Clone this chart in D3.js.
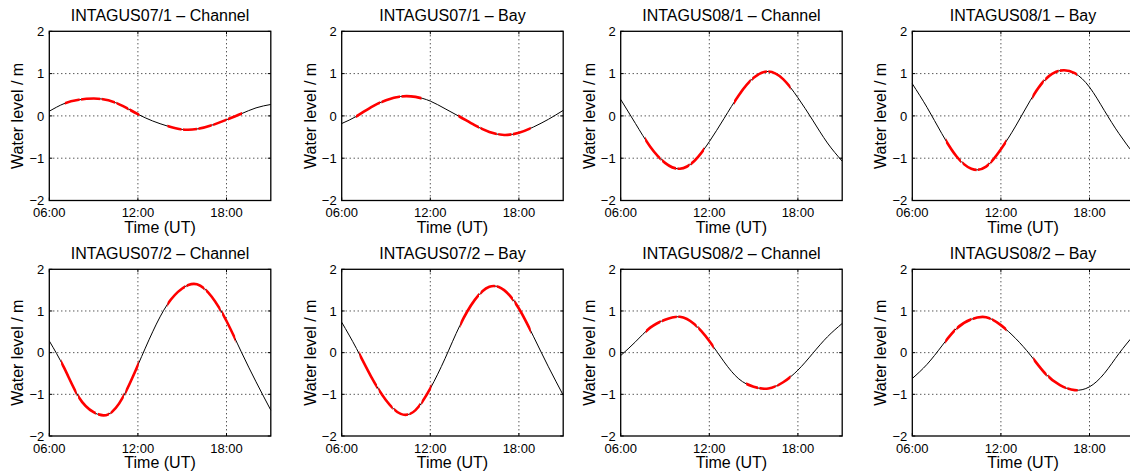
<!DOCTYPE html>
<html>
<head>
<meta charset="utf-8">
<script src="https://cdn.jsdelivr.net/npm/d3@7"></script>
<style>
  html, body { margin: 0; padding: 0; background: #fff; }
  svg { display: block; font-family: "Liberation Sans", Arial, Helvetica, sans-serif; }
</style>
</head>
<body>
<svg id="chart" width="1130" height="475"></svg>
<script>
// Hours of the day (UT) at which the water level is sampled
const hours = [6, 7, 8, 9, 10, 11, 12, 13, 14, 15, 16, 17, 18, 19, 20, 21];

// Panel titles, row by row
const titles = [
  "INTAGUS07/1 – Channel", "INTAGUS07/1 – Bay", "INTAGUS08/1 – Channel", "INTAGUS08/1 – Bay",
  "INTAGUS07/2 – Channel", "INTAGUS07/2 – Bay", "INTAGUS08/2 – Channel", "INTAGUS08/2 – Bay"
];

// Water level (m) at each hour, one array per panel
const level071Channel = [0.11, 0.29, 0.38, 0.41, 0.37, 0.23, 0.04, -0.12, -0.24, -0.32, -0.31, -0.22, -0.09, 0.05, 0.19, 0.27];
const level071Bay     = [-0.18, -0.01, 0.21, 0.37, 0.46, 0.45, 0.35, 0.17, -0.02, -0.22, -0.38, -0.45, -0.40, -0.26, -0.08, 0.13];
const level081Channel = [0.39, -0.18, -0.73, -1.11, -1.25, -1.06, -0.61, -0.06, 0.49, 0.90, 1.05, 0.87, 0.43, -0.10, -0.64, -1.07];
const level081Bay     = [0.76, 0.20, -0.42, -0.96, -1.25, -1.20, -0.79, -0.24, 0.37, 0.86, 1.07, 1.01, 0.68, 0.13, -0.42, -0.90];
const level072Channel = [0.28, -0.36, -1.07, -1.43, -1.48, -1.06, -0.30, 0.50, 1.16, 1.54, 1.64, 1.34, 0.76, 0.02, -0.70, -1.38];
const level072Bay     = [0.73, 0.10, -0.58, -1.14, -1.47, -1.38, -0.86, -0.14, 0.65, 1.26, 1.58, 1.50, 1.06, 0.38, -0.34, -1.02];
const level082Channel = [-0.07, 0.26, 0.60, 0.79, 0.86, 0.68, 0.28, -0.22, -0.63, -0.82, -0.86, -0.71, -0.42, -0.02, 0.38, 0.70];
const level082Bay     = [-0.62, -0.28, 0.16, 0.58, 0.80, 0.85, 0.66, 0.34, -0.06, -0.50, -0.78, -0.90, -0.82, -0.50, -0.02, 0.42];
const levels = [level071Channel, level071Bay, level081Channel, level081Bay,
                level072Channel, level072Bay, level082Channel, level082Bay];

// Measurement periods (start, end hour) drawn in red on each panel
const sampled071Channel = [[7.05, 8.05], [8.15, 9.45], [9.55, 10.45], [10.55, 11.35], [11.45, 12.1],
                           [14.0, 14.95], [15.05, 16.0], [16.1, 17.0], [17.1, 18.0], [18.1, 19.05]];
const sampled071Bay     = [[6.97, 8.6], [8.7, 9.95], [10.05, 11.4],
                           [13.9, 15.3], [15.4, 16.5], [16.6, 17.5], [17.6, 18.8]];
const sampled081Channel = [[7.65, 8.7], [8.8, 9.75], [9.85, 10.65], [10.75, 11.65],
                           [13.67, 14.8], [14.9, 15.9], [16.0, 17.5]];
const sampled081Bay     = [[8.27, 9.3], [9.4, 10.35], [10.45, 11.2], [11.3, 12.36],
                           [14.13, 14.9], [15.0, 15.9], [16.0, 17.15]];
const sampled072Channel = [[6.8, 7.85], [7.95, 9.15], [9.3, 10.05], [10.15, 11.05], [11.15, 12.05],
                           [14.0, 15.2], [15.3, 16.5], [16.6, 17.6], [17.7, 18.6]];
const sampled072Bay     = [[7.2, 8.4], [8.5, 9.45], [9.55, 10.5], [10.6, 11.3], [11.4, 12.07],
                           [14.03, 15.3], [15.4, 16.4], [16.5, 17.6], [17.7, 18.8]];
const sampled082Channel = [[7.7, 8.7], [8.8, 9.8], [9.9, 11.15], [11.25, 12.3],
                           [14.5, 15.3], [15.4, 16.5], [16.6, 17.5]];
const sampled082Bay     = [[8.23, 8.9], [9.0, 10.0], [10.1, 11.3], [11.4, 12.37],
                           [14.2, 15.1], [15.2, 16.4], [16.5, 17.2]];
const sampled = [sampled071Channel, sampled071Bay, sampled081Channel, sampled081Bay,
                 sampled072Channel, sampled072Bay, sampled082Channel, sampled082Bay];

// Axis ticks
const timeTicks = [6, 12, 18];
const timeTickLabels = ["06:00", "12:00", "18:00"];
const levelTicks = [-2, -1, 0, 1, 2];

// Layout
const colLeft = [49.3, 341.7, 620.7, 912.3];
const plotW = 221.5;
const rowTop = [31.3, 269.3];
const rowBottom = [200.5, 436];

const svg = d3.select("#chart");
const defs = svg.append("defs");

levels.forEach((vals, i) => {
  const col = i % 4, row = Math.floor(i / 4);
  const x0 = colLeft[col], x1 = x0 + plotW;
  const y0 = rowTop[row], y1 = rowBottom[row];

  const x = d3.scaleLinear().domain([6, 21]).range([x0, x1]);
  const y = d3.scaleLinear().domain([-2, 2]).range([y1, y0]);

  const g = svg.append("g");

  // Dotted grid
  g.selectAll(".gx").data(timeTicks.filter(t => t > 6)).join("line")
    .attr("x1", d => x(d)).attr("x2", d => x(d))
    .attr("y1", y0).attr("y2", y1)
    .attr("stroke", "#111").attr("stroke-width", 1)
    .attr("stroke-dasharray", "1,3");
  g.selectAll(".gy").data(levelTicks.filter(v => v > -2 && v < 2)).join("line")
    .attr("x1", x0).attr("x2", x1)
    .attr("y1", d => y(d)).attr("y2", d => y(d))
    .attr("stroke", "#111").attr("stroke-width", 1)
    .attr("stroke-dasharray", "1,3");

  const pts = hours.map((h, k) => [h, vals[k]]);
  const line = d3.line().x(d => x(d[0])).y(d => y(d[1])).curve(d3.curveNatural);
  const pathD = line(pts);

  // Full tidal curve
  g.append("path").attr("d", pathD)
    .attr("fill", "none").attr("stroke", "#000").attr("stroke-width", 1);

  // Measurement periods highlighted in red
  const clipId = "clip" + i;
  const cp = defs.append("clipPath").attr("id", clipId);
  cp.selectAll("rect").data(sampled[i]).join("rect")
    .attr("x", d => x(d[0])).attr("width", d => x(d[1]) - x(d[0]))
    .attr("y", y0 - 5).attr("height", y1 - y0 + 10);
  g.append("path").attr("d", pathD)
    .attr("fill", "none").attr("stroke", "#ff0000").attr("stroke-width", 2.6)
    .attr("clip-path", `url(#${clipId})`);

  // Axes frame and inward ticks
  g.append("rect").attr("x", x0).attr("y", y0)
    .attr("width", plotW).attr("height", y1 - y0)
    .attr("fill", "none").attr("stroke", "#000").attr("stroke-width", 1.3);

  const tl = 3;
  timeTicks.forEach(t => {
    g.append("line").attr("x1", x(t)).attr("x2", x(t)).attr("y1", y1).attr("y2", y1 - tl).attr("stroke", "#000");
    g.append("line").attr("x1", x(t)).attr("x2", x(t)).attr("y1", y0).attr("y2", y0 + tl).attr("stroke", "#000");
  });
  levelTicks.forEach(v => {
    g.append("line").attr("x1", x0).attr("x2", x0 + tl).attr("y1", y(v)).attr("y2", y(v)).attr("stroke", "#000");
    g.append("line").attr("x1", x1).attr("x2", x1 - tl).attr("y1", y(v)).attr("y2", y(v)).attr("stroke", "#000");
  });

  // Tick labels
  g.selectAll(".xt").data(timeTicks).join("text")
    .attr("x", d => x(d)).attr("y", y1 + 16.5)
    .attr("text-anchor", "middle").attr("font-size", 13)
    .text((d, k) => timeTickLabels[k]);
  g.selectAll(".yt").data(levelTicks).join("text")
    .attr("x", x0 - 5).attr("y", d => y(d)).attr("dy", "0.36em")
    .attr("text-anchor", "end").attr("font-size", 13)
    .text(d => d3.format("d")(d));

  // Titles and axis labels
  g.append("text").attr("x", (x0 + x1) / 2).attr("y", y0 - 10.5)
    .attr("text-anchor", "middle").attr("font-size", 16).text(titles[i]);
  g.append("text").attr("x", (x0 + x1) / 2).attr("y", y1 + 32)
    .attr("text-anchor", "middle").attr("font-size", 16).text("Time (UT)");
  g.append("text")
    .attr("transform", `translate(${x0 - 26},${(y0 + y1) / 2}) rotate(-90)`)
    .attr("text-anchor", "middle").attr("font-size", 16).text("Water level / m");
});
</script>
</body>
</html>
